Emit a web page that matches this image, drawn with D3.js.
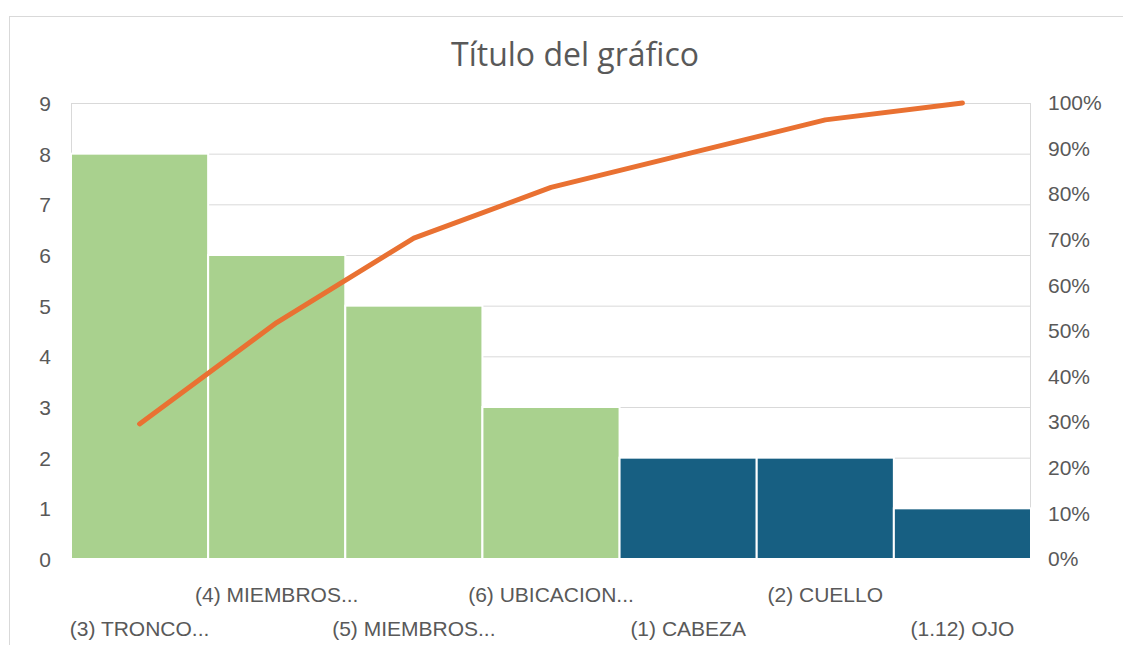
<!DOCTYPE html>
<meta charset="utf-8">
<head>
<style>
body { margin: 0; background: #fff; }
svg { font-family: "Open Sans", "Noto Sans", sans-serif; }
.tick text { fill: #595959; font-size: 21px; }
.grid line { stroke: #d9d9d9; stroke-width: 1px; }
.grid .domain { display: none; }
.axis .domain, .axis line { display: none; }
</style>
<script src="https://d3js.org/d3.v7.min.js"></script>
</head>
<body>
<script>
// data
var categories = ["(3) TRONCO...", "(4) MIEMBROS...", "(5) MIEMBROS...", "(6) UBICACION...",
                  "(1) CABEZA", "(2) CUELLO", "(1.12) OJO"];
var counts = [8, 6, 5, 3, 2, 2, 1];
var barColors = ["#a9d18e", "#a9d18e", "#a9d18e", "#a9d18e", "#175f82", "#175f82", "#175f82"];
var leftTicks = [0, 1, 2, 3, 4, 5, 6, 7, 8, 9];
var rightTicks = [0, 0.1, 0.2, 0.3, 0.4, 0.5, 0.6, 0.7, 0.8, 0.9, 1];

var total = d3.sum(counts);
var running = 0;
var cumulative = counts.map(function(c) { running += c; return running / total; });

var W = 1123, H = 645;
var margin = {top: 103, right: 92, bottom: 86, left: 71},
    width = W - margin.left - margin.right,
    height = H - margin.top - margin.bottom;

var svg = d3.select("body").append("svg")
    .attr("width", W)
    .attr("height", H);

// outer chart frame
svg.append("rect")
    .attr("x", 9.5).attr("y", 16.5)
    .attr("width", W + 20).attr("height", H + 20)
    .attr("fill", "none")
    .attr("stroke", "#d9d9d9");

svg.append("text")
    .attr("x", 575).attr("y", 66)
    .attr("text-anchor", "middle")
    .attr("fill", "#595959")
    .style("font-size", "32px")
    .text("Título del gráfico");

var g = svg.append("g")
    .attr("transform", "translate(" + margin.left + "," + margin.top + ")");

var x = d3.scaleBand().domain(categories).range([0, width]).padding(0);
var y = d3.scaleLinear().domain([0, 9]).range([height, 0]);
var y2 = d3.scaleLinear().domain([0, 1]).range([height, 0]);

// horizontal gridlines
g.append("g")
    .attr("class", "grid")
    .call(d3.axisLeft(y).tickValues(leftTicks).tickSize(-width).tickFormat(""));

// plot area side lines
g.append("line").attr("x1", 0.5).attr("x2", 0.5).attr("y1", 0).attr("y2", height)
    .attr("stroke", "#d9d9d9");
g.append("line").attr("x1", width - 0.5).attr("x2", width - 0.5).attr("y1", 0).attr("y2", height)
    .attr("stroke", "#d9d9d9");

// bars
g.selectAll(".bar")
    .data(counts)
    .enter().append("rect")
    .attr("class", "bar")
    .attr("x", function(d, i) { return x(categories[i]); })
    .attr("width", x.bandwidth())
    .attr("y", function(d) { return y(d); })
    .attr("height", function(d) { return height - y(d); })
    .attr("fill", function(d, i) { return barColors[i]; })
    .attr("stroke", "#fff")
    .attr("stroke-width", 2);

// cumulative line
var line = d3.line()
    .x(function(d, i) { return x(categories[i]) + x.bandwidth() / 2; })
    .y(function(d) { return y2(d); });

g.append("path")
    .datum(cumulative)
    .attr("fill", "none")
    .attr("stroke", "#e97132")
    .attr("stroke-width", 5)
    .attr("stroke-linecap", "round")
    .attr("stroke-linejoin", "round")
    .attr("d", line);

// left axis
g.append("g")
    .attr("class", "axis")
    .attr("transform", "translate(-12,0)")
    .call(d3.axisLeft(y).tickValues(leftTicks).tickSize(0).tickPadding(8))
  .selectAll("text").attr("dy", "0.35em");

// right axis
g.append("g")
    .attr("class", "axis")
    .attr("transform", "translate(" + (width + 9) + ",0)")
    .call(d3.axisRight(y2).tickValues(rightTicks).tickSize(0).tickPadding(8).tickFormat(d3.format(".0%")));

// category labels, staggered in two rows
g.append("g")
    .attr("class", "axis")
    .attr("transform", "translate(0," + height + ")")
    .call(d3.axisBottom(x).tickSize(0).tickPadding(0))
  .selectAll("text")
    .attr("y", function(d, i) { return i % 2 === 0 ? 70 : 36; })
    .attr("dy", "0.35em");
</script>
</body>
</html>
